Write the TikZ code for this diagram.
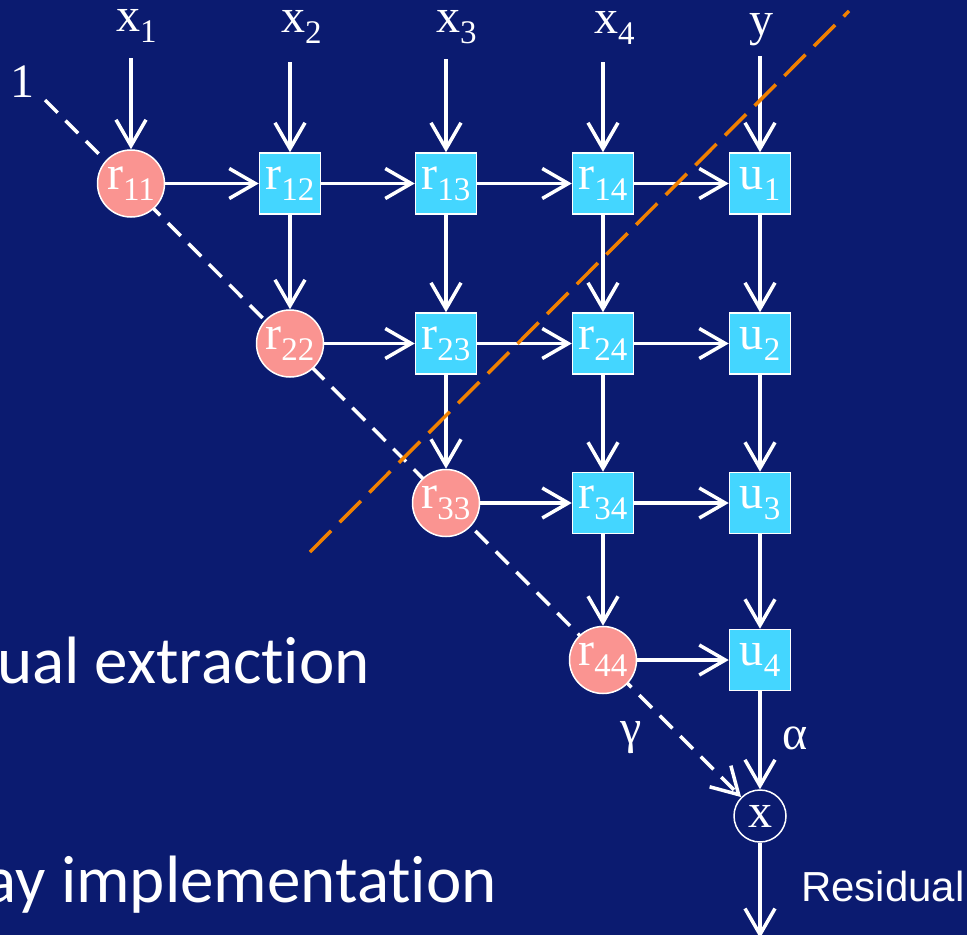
\documentclass[tikz,border=0pt]{standalone}
\usepackage{fontspec}
\setmainfont{Liberation Serif}
\newfontfamily\arialfont{Liberation Sans}
\newfontfamily\calfont[Ligatures=NoCommon]{Carlito}
\usetikzlibrary{arrows.meta}
\pgfdeclarelayer{bglayer}
\pgfdeclarelayer{dashlayer}
\pgfsetlayers{bglayer,dashlayer,main}
\definecolor{navybg}{RGB}{11,27,112}
\definecolor{salmonfill}{RGB}{250,148,145}
\definecolor{cyanfill}{RGB}{68,214,255}
\definecolor{orangeline}{RGB}{240,128,0}
\newcommand{\sbs}[1]{\raisebox{-11pt}{\fontsize{33}{33}\selectfont #1}}
\begin{document}
\begin{tikzpicture}[x=1pt,y=-1pt,
  >={Straight Barb[length=26pt,width=30pt]},
  arr/.style={->,draw=white,line width=3.5pt},
  rnode/.style={circle,fill=salmonfill,draw=white,line width=1.5pt,minimum size=67pt,inner sep=0pt,text=white,font=\fontsize{48}{48}\selectfont},
  bnode/.style={rectangle,fill=cyanfill,draw=white,line width=1.5pt,minimum size=61pt,inner sep=0pt,text=white,font=\fontsize{48}{48}\selectfont},
  lab/.style={text=white,inner sep=0pt,font=\fontsize{48}{48}\selectfont},
  bigtext/.style={text=white,inner sep=0pt,font=\calfont\fontsize{67}{67}\selectfont}]
\begin{pgfonlayer}{bglayer}
\fill[navybg] (0,0) rectangle (967,935);
\end{pgfonlayer}
\useasboundingbox (0,0) rectangle (967,935);
\clip (0,0) rectangle (967,935);

% matrix nodes
\node[rnode] (r11) at (131,183.5) {r\sbs{11}};
\node[bnode] (r12) at (290,183.5) {r\sbs{12}};
\node[bnode] (r13) at (446,183.5) {r\sbs{13}};
\node[bnode] (r14) at (603,183.5) {r\sbs{14}};
\node[bnode] (u1) at (760,183.5) {u\sbs{1}};
\node[rnode] (r22) at (290,343.5) {r\sbs{22}};
\node[bnode] (r23) at (446,343.5) {r\sbs{23}};
\node[bnode] (r24) at (603,343.5) {r\sbs{24}};
\node[bnode] (u2) at (760,343.5) {u\sbs{2}};
\node[rnode] (r33) at (446,503) {r\sbs{33}};
\node[bnode] (r34) at (603,503) {r\sbs{34}};
\node[bnode] (u3) at (760,503) {u\sbs{3}};
\node[rnode] (r44) at (603,660) {r\sbs{44}};
\node[bnode] (u4) at (760,660) {u\sbs{4}};
\node[circle,draw=white,line width=1.5pt,minimum size=52pt,inner sep=0pt,text=white,font=\fontsize{48}{48}\selectfont] (xm) at (760,816) {x};

% input labels
\node[lab,anchor=base west] (lx1) at (116,31) {x\sbs{1}};
\node[lab,anchor=base west] (lx2) at (281,32) {x\sbs{2}};
\node[lab,anchor=base west] (lx3) at (436,32) {x\sbs{3}};
\node[lab,anchor=base west] (lx4) at (594,33) {x\sbs{4}};
\node[lab,anchor=base] (ly) at (761,35) {y};
\node[lab,anchor=base] (lone) at (22,97) {1};
\coordinate (in1) at (131,58);
\coordinate (in2) at (290,62);
\coordinate (in3) at (446,59);
\coordinate (in4) at (603,62);
\coordinate (in5) at (760,56);

% input arrows
\draw[arr] (in1) -- (r11);
\draw[arr] (in2) -- (r12);
\draw[arr] (in3) -- (r13);
\draw[arr] (in4) -- (r14);
\draw[arr] (in5) -- (u1);

% horizontal arrows
\draw[arr] (r11) -- (r12);
\draw[arr] (r12) -- (r13);
\draw[arr] (r13) -- (r14);
\draw[arr] (r14) -- (u1);
\draw[arr] (r22) -- (r23);
\draw[arr] (r23) -- (r24);
\draw[arr] (r24) -- (u2);
\draw[arr] (r33) -- (r34);
\draw[arr] (r34) -- (u3);
\draw[arr] (r44) -- (u4);

% vertical arrows
\draw[arr] (r12) -- (r22);
\draw[arr] (r13) -- (r23);
\draw[arr] (r14) -- (r24);
\draw[arr] (u1) -- (u2);
\draw[arr] (r23) -- (r33);
\draw[arr] (r24) -- (r34);
\draw[arr] (u2) -- (u3);
\draw[arr] (r34) -- (r44);
\draw[arr] (u3) -- (u4);
\draw[arr] (u4) -- (xm);
\coordinate (outend) at (760,938);
\draw[arr] (xm) -- (outend);

% dashed diagonal (behind circles)
\coordinate (dstart) at (45,100);
\begin{pgfonlayer}{dashlayer}
\draw[arr,dash pattern=on 18pt off 11pt] (dstart) -- (xm);
\end{pgfonlayer}

% orange dashed line
\coordinate (o1) at (310,552);
\coordinate (o2) at (849,11);
\draw[orangeline,line width=3.5pt,dash pattern=on 30pt off 12pt] (o1) -- (o2);

% labels
\node[lab] (gam) at (631,738) {γ};
\node[lab] (alp) at (795,738) {α};
\node[text=white,inner sep=0pt,anchor=base west,font=\arialfont\fontsize{42}{42}\selectfont] (resid) at (801,901) {Residual};

% cropped slide text
\node[bigtext,anchor=base east] (t1) at (370,683) {ual extraction};
\node[bigtext,anchor=base east] (t2) at (497,902) {ay implementation};
\end{tikzpicture}
\end{document}
